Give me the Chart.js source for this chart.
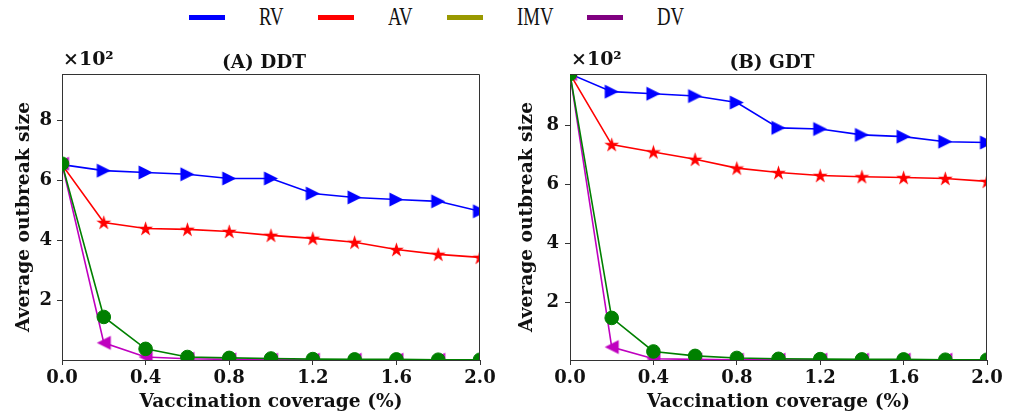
<!DOCTYPE html>
<html>
<head>
<meta charset="utf-8">
<script src="https://cdn.jsdelivr.net/npm/chart.js@4.4.1/dist/chart.umd.min.js"></script>
<style>
  body { margin: 0; background: #fff; width: 1021px; height: 415px; position: relative; overflow: hidden; }
  .box { position: absolute; top: 0; height: 415px; }
  #legend { position: absolute; top: 0; left: 189px; height: 34px; display: flex; align-items: center;
            font-family: "Liberation Serif", serif; font-size: 25px; color: #111; white-space: nowrap; }
  .swatch { display: inline-block; width: 36px; height: 5px; margin-right: 34px; }
  .lbl { display: inline-block; margin-right: 34px; }
  .lbl span { display: inline-block; transform: scaleX(0.75); transform-origin: left center; }
</style>
</head>
<body>
<div id="legend"></div>
<div class="box" style="left:0;width:505px"><canvas id="ddt" width="505" height="415"></canvas></div>
<div class="box" style="left:505px;width:516px"><canvas id="gdt" width="516" height="415"></canvas></div>
<script>
// vaccination coverage (%)
var coverage = [0.0, 0.2, 0.4, 0.6, 0.8, 1.0, 1.2, 1.4, 1.6, 1.8, 2.0];
var xTicks = [0.0, 0.4, 0.8, 1.2, 1.6, 2.0];
var yTicks = [2, 4, 6, 8];

// average outbreak size (x10^2), DDT
var ddtRV  = [6.52, 6.32, 6.26, 6.20, 6.06, 6.06, 5.56, 5.43, 5.36, 5.30, 4.97];
var ddtAV  = [6.52, 4.60, 4.40, 4.37, 4.30, 4.17, 4.07, 3.94, 3.70, 3.54, 3.44];
var ddtIMV = [6.55, 1.46, 0.40, 0.13, 0.10, 0.08, 0.06, 0.05, 0.05, 0.04, 0.04];
var ddtDV  = [6.55, 0.60, 0.13, 0.07, 0.05, 0.04, 0.04, 0.04, 0.04, 0.04, 0.04];

// average outbreak size (x10^2), GDT
var gdtRV  = [9.75, 9.15, 9.08, 9.00, 8.78, 7.92, 7.88, 7.68, 7.62, 7.45, 7.42];
var gdtAV  = [9.75, 7.35, 7.10, 6.85, 6.55, 6.40, 6.30, 6.26, 6.23, 6.20, 6.10];
var gdtIMV = [9.75, 1.46, 0.32, 0.17, 0.10, 0.07, 0.06, 0.05, 0.05, 0.04, 0.04];
var gdtDV  = [9.75, 0.47, 0.07, 0.05, 0.04, 0.04, 0.04, 0.04, 0.04, 0.04, 0.04];

var seriesNames = ['RV', 'AV', 'IMV', 'DV'];
var legendColors = ['#0000ff', '#ff0000', '#999900', '#800080'];
var lineColors = ['#0000ff', '#ff0000', '#008000', '#bf00bf'];

// legend across the top
var legend = document.getElementById('legend');
seriesNames.forEach(function (name, i) {
    var sw = document.createElement('span');
    sw.className = 'swatch';
    sw.style.background = legendColors[i];
    legend.appendChild(sw);
    var lbl = document.createElement('span');
    lbl.className = 'lbl';
    var t = document.createElement('span');
    t.textContent = name;
    lbl.appendChild(t);
    legend.appendChild(lbl);
    lbl.style.width = (t.offsetWidth * 0.75) + 'px';
});

// marker images: filled star and isoceles triangles (left / right)
function markerCanvas(draw, color) {
    var c = document.createElement('canvas');
    c.width = 17; c.height = 17;
    var g = c.getContext('2d');
    g.beginPath();
    draw(g);
    g.closePath();
    g.fillStyle = color;
    g.fill();
    return c;
}
function starPath(g) {
    for (var k = 0; k < 10; k++) {
        var r = k % 2 === 0 ? 7.8 : 3.0;
        var a = -Math.PI / 2 + k * Math.PI / 5;
        var px = 8.5 + r * Math.cos(a), py = 9.1 + r * Math.sin(a);
        if (k === 0) g.moveTo(px, py); else g.lineTo(px, py);
    }
}
function triRight(g) { g.moveTo(15.5, 8.5); g.lineTo(1.5, 1.5); g.lineTo(1.5, 15.5); }
function triLeft(g)  { g.moveTo(1.5, 8.5); g.lineTo(15.5, 1.5); g.lineTo(15.5, 15.5); }

var starMark = markerCanvas(starPath, lineColors[1]);
var rightMark = markerCanvas(triRight, lineColors[0]);
var leftMark = markerCanvas(triLeft, lineColors[3]);

function pts(vals) {
    return coverage.map(function (x, i) { return { x: x, y: vals[i] }; });
}

var framePlugin = {
    id: 'frame',
    afterDraw: function (chart, args, opts) {
        var ctx = chart.ctx, a = chart.chartArea;
        ctx.save();
        ctx.strokeStyle = '#333';
        ctx.lineWidth = 1;
        ctx.beginPath();
        var top = Math.round(a.top) + 0.5, right = Math.round(a.right) - 0.5;
        ctx.moveTo(a.left, top);
        ctx.lineTo(right, top);
        ctx.lineTo(right, a.bottom);
        ctx.stroke();
        ctx.fillStyle = '#111';
        ctx.textBaseline = 'middle';
        ctx.textAlign = 'center';
        ctx.font = 'bold 18.5px "DejaVu Serif"';
        ctx.fillText(opts.title, opts.titleX, 63);
        ctx.textAlign = 'left';
        ctx.font = 'bold 19px "DejaVu Serif"';
        ctx.fillText('\u00d710\u00b2', a.left + 1, 60);
        ctx.restore();
    }
};

function makeChart(id, title, rv, av, imv, dv, geo) {
    var tickFont = { family: 'DejaVu Serif', size: 18, weight: 'bold' };
    var titleFont = { family: 'DejaVu Serif', size: 18.6, weight: 'bold' };
    var grid = { display: true, drawOnChartArea: false, drawTicks: true, tickLength: 5, color: '#333' };
    var border = { display: true, color: '#333', width: 1 };
    return new Chart(document.getElementById(id), {
        type: 'line',
        data: {
            datasets: [
                { label: 'RV', data: pts(rv), borderColor: lineColors[0], pointStyle: rightMark, pointRadius: 7, order: 3 },
                { label: 'AV', data: pts(av), borderColor: lineColors[1], pointStyle: starMark, pointRadius: 7, order: 2 },
                { label: 'IMV', data: pts(imv), borderColor: lineColors[2], pointStyle: 'circle', pointRadius: 6.8, order: 0 },
                { label: 'DV', data: pts(dv), borderColor: lineColors[3], pointStyle: leftMark, pointRadius: 7, order: 1 }
            ].map(function (d) {
                d.backgroundColor = d.borderColor;
                d.borderWidth = 1.6;
                d.pointBorderWidth = 1;
                d.pointBorderColor = d.borderColor;
                d.pointHoverRadius = d.pointRadius;
                d.tension = 0;
                d.clip = 0;
                return d;
            })
        },
        options: {
            responsive: false,
            animation: false,
            events: [],
            layout: { padding: { top: 74, right: geo.padRight, left: 0, bottom: 0 } },
            plugins: {
                legend: { display: false },
                tooltip: { enabled: false },
                frame: { title: title, titleX: geo.titleX }
            },
            scales: {
                x: {
                    type: 'linear', min: 0, max: 2,
                    afterBuildTicks: function (axis) { axis.ticks = xTicks.map(function (v) { return { value: v }; }); },
                    afterFit: function (axis) { axis.height = 55; },
                    ticks: { font: tickFont, color: '#111', padding: 3, maxRotation: 0,
                             callback: function (v) { return v.toFixed(1); } },
                    grid: grid, border: border,
                    title: { display: true, text: 'Vaccination coverage (%)', font: titleFont, color: '#111',
                             padding: { top: 0, bottom: 2 } }
                },
                y: {
                    type: 'linear', min: 0.03, max: geo.yMax,
                    afterBuildTicks: function (axis) { axis.ticks = yTicks.map(function (v) { return { value: v }; }); },
                    afterFit: function (axis) { axis.width = geo.axisW; },
                    ticks: { font: tickFont, color: '#111', padding: geo.tickPad,
                             callback: function (v) { return String(v); } },
                    grid: grid, border: border,
                    title: { display: true, text: 'Average outbreak size', font: titleFont, color: '#111',
                             padding: { top: geo.titlePad, bottom: 0 } }
                }
            }
        },
        plugins: [framePlugin]
    });
}

makeChart('ddt', '(A) DDT', ddtRV, ddtAV, ddtIMV, ddtDV,
          { axisW: 62, padRight: 25, tickPad: 5, titlePad: 13, titleX: 264, yMax: 9.53 });
makeChart('gdt', '(B) GDT', gdtRV, gdtAV, gdtIMV, gdtDV,
          { axisW: 65, padRight: 34, tickPad: 6, titlePad: 11, titleX: 267, yMax: 9.75 });
</script>
</body>
</html>
